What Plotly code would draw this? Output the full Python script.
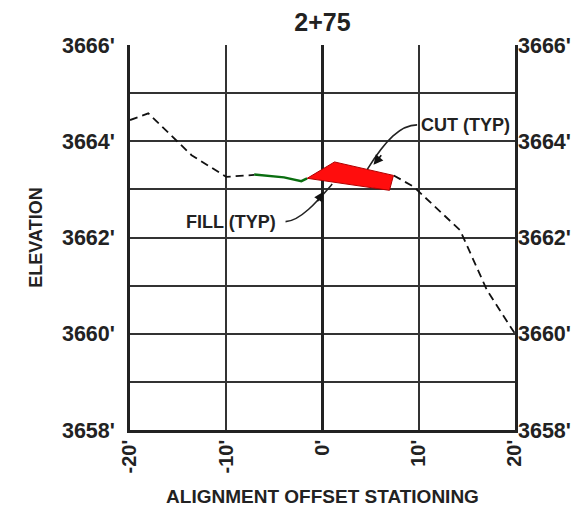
import plotly.graph_objects as go

# ---- data ----
x_ticks = [-20, -10, 0, 10, 20]
x_tick_text = ["-20'", "-10'", "0'", "10'", "20'"]
y_ticks = [3658, 3659, 3660, 3661, 3662, 3663, 3664, 3665, 3666]
y_tick_text = ["3658'", "", "3660'", "", "3662'", "", "3664'", "", "3666'"]

ground_left_x = [-20, -18.1, -13.6, -10.0, -7.1]
ground_left_y = [3664.44, 3664.58, 3663.71, 3663.26, 3663.30]
ground_right_x = [7.4, 9.5, 14.3, 17.1, 20.0]
ground_right_y = [3663.29, 3663.05, 3662.15, 3660.9, 3660.0]

fill_x = [-7.1, -4.0, -2.2, -1.6]
fill_y = [3663.31, 3663.25, 3663.17, 3663.23]

cut_x = [-1.59, 1.25, 7.37, 6.96, -1.59]
cut_y = [3663.23, 3663.57, 3663.29, 3662.98, 3663.23]

# leader curves (start, control1, control2, end) in data units
cut_leader_x = [9.83, 8.10, 6.54, 4.67]
cut_leader_y = [3664.34, 3664.34, 3664.02, 3663.42]
fill_leader_x = [-3.84, -2.28, -0.42, 1.01]
fill_leader_y = [3662.33, 3662.34, 3662.78, 3663.11]
cut_arrow = (5.30, 3663.51)
fill_arrow = (0.10, 3662.95)
cut_label = ("CUT (TYP)", 10.0, 3664.34)
fill_label = ("FILL (TYP)", -4.67, 3662.33)

FONT = "Liberation Sans, Arial, sans-serif"
XTICKFONT = dict(family=FONT, size=20, color="#222", weight="bold")
YTICKFONT = dict(family=FONT, size=21.5, color="#222", weight="bold")

fig = go.Figure()
fig.add_trace(go.Scatter(x=ground_left_x, y=ground_left_y, mode="lines",
                         line=dict(color="#111", width=1.8, dash="8px,5px"),
                         hoverinfo="skip", showlegend=False))
fig.add_trace(go.Scatter(x=ground_right_x, y=ground_right_y, mode="lines",
                         line=dict(color="#111", width=1.8, dash="8px,5px"),
                         hoverinfo="skip", showlegend=False))
fig.add_trace(go.Scatter(x=fill_x, y=fill_y, mode="lines",
                         line=dict(color="#0a6e10", width=2.4),
                         hoverinfo="skip", showlegend=False))
fig.add_trace(go.Scatter(x=cut_x, y=cut_y, mode="lines", fill="toself",
                         fillcolor="#ff0d0d", line=dict(color="#b00000", width=1),
                         hoverinfo="skip", showlegend=False))
# invisible trace on right axis
fig.add_trace(go.Scatter(x=[0], y=[3662], yaxis="y2", mode="markers",
                         marker=dict(opacity=0), hoverinfo="skip", showlegend=False))


def bez(xs, ys):
    return (f"M {xs[0]},{ys[0]} C {xs[1]},{ys[1]} {xs[2]},{ys[2]} {xs[3]},{ys[3]}")


fig.add_shape(type="path", path=bez(cut_leader_x, cut_leader_y), xref="x", yref="y",
              line=dict(color="#222", width=1.6))
fig.add_shape(type="path", path=bez(fill_leader_x, fill_leader_y), xref="x", yref="y",
              line=dict(color="#222", width=1.6))

fig.add_annotation(x=cut_arrow[0], y=cut_arrow[1], ax=9, ay=-11, text="",
                   showarrow=True, arrowhead=2, arrowsize=1.2, arrowwidth=1.6,
                   arrowcolor="#111")
fig.add_annotation(x=fill_arrow[0], y=fill_arrow[1], ax=-7, ay=11, text="",
                   showarrow=True, arrowhead=2, arrowsize=1.2, arrowwidth=1.6,
                   arrowcolor="#111")
fig.add_annotation(x=cut_label[1], y=cut_label[2], text="<b>" + cut_label[0] + "</b>",
                   showarrow=False, xanchor="left", yanchor="middle",
                   font=dict(family=FONT, size=18, color="#222"))
fig.add_annotation(x=fill_label[1], y=fill_label[2], text="<b>" + fill_label[0] + "</b>",
                   showarrow=False, xanchor="right", yanchor="middle",
                   font=dict(family=FONT, size=18, color="#222"))

fig.update_layout(
    width=583, height=512,
    margin=dict(l=122, r=76, t=37, b=90, autoexpand=False),
    paper_bgcolor="white", plot_bgcolor="white",
    font=dict(family=FONT, color="#222"),
    title=dict(text="<b>2+75</b>", x=(122 + 192.5) / 583, xanchor="center",
               y=1 - 14 / 512, yanchor="middle", yref="container", automargin=False,
               font=dict(family=FONT, size=25, color="#222")),
    xaxis=dict(range=[-20, 20], tickvals=x_ticks, ticktext=x_tick_text,
               tickangle=-90, tickfont=XTICKFONT, automargin=False,
               showgrid=True, gridcolor="#333", gridwidth=1.5,
               zeroline=True, zerolinecolor="#222", zerolinewidth=2.6,
               showline=True, linecolor="#222", linewidth=2.6, mirror=False,
               ticks="", ticklabelstandoff=-1,
               title=dict(text="<b>ALIGNMENT OFFSET STATIONING</b>", standoff=18,
                          font=dict(family=FONT, size=19, color="#222"))),
    yaxis=dict(range=[3658, 3666], tickvals=y_ticks, ticktext=y_tick_text,
               tickfont=YTICKFONT, automargin=False,
               showgrid=True, gridcolor="#333", gridwidth=1.5, zeroline=False,
               showline=True, linecolor="#222", linewidth=2.6, mirror=True,
               ticks="", ticklabelstandoff=8,
               title=dict(text="<b>ELEVATION</b>", standoff=15,
                          font=dict(family=FONT, size=18, color="#222"))),
    yaxis2=dict(range=[3658, 3666], overlaying="y", side="right",
                tickvals=y_ticks, ticktext=y_tick_text, showgrid=False,
                zeroline=False, showline=False, ticks="", ticklabelstandoff=2,
                automargin=False, tickfont=YTICKFONT),
)

fig.write_html("out.html")
